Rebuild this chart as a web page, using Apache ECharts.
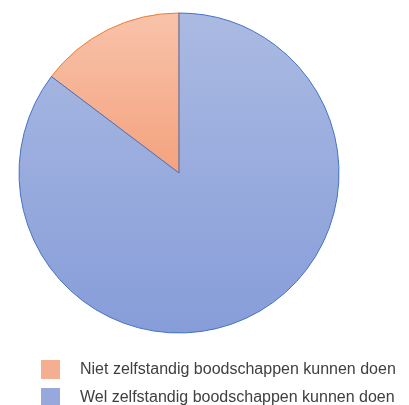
<!DOCTYPE html>
<html><head><meta charset="utf-8">
<script src="https://cdn.jsdelivr.net/npm/echarts@6/dist/echarts.min.js"></script>
<style>html,body{margin:0;padding:0;background:#fff}#c{width:409px;height:405px}</style>
</head><body><div id="c"></div>
<script>
var categories = ['Niet zelfstandig boodschappen kunnen doen', 'Wel zelfstandig boodschappen kunnen doen'];
var values = [14.7, 85.3];

var styles = [
  {fill: [{offset:0,color:'#F8C3AA'},{offset:1,color:'#F4A27E'}], border:'#ED7D31', legend:'#F5AF90'},
  {fill: [{offset:0,color:'#AABAE2'},{offset:1,color:'#879DD9'}], border:'#4472C4', legend:'#97A9DC'}
];

var data = categories.map(function(name, i){
  return {
    name: name, value: values[i],
    itemStyle: {
      color: new echarts.graphic.LinearGradient(0,0,0,1, styles[i].fill),
      borderColor: styles[i].border, borderWidth: 1
    }
  };
});

var chart = echarts.init(document.getElementById('c'));
chart.setOption({
  animation: false,
  legend: {
    orient: 'vertical', left: 41, top: 360, height: 80, width: 380, padding: 0,
    itemWidth: 19, itemHeight: 19, itemGap: 9,
    icon: 'rect',
    data: categories.map(function(n,i){ return {name:n, itemStyle:{color:styles[i].legend, borderWidth:0}}; }),
    textStyle: {fontFamily:'Liberation Sans, Arial, sans-serif', fontSize:16, color:'#404040', padding:[0,0,0,15]}
  },
  series: [{
    type: 'pie',
    center: [179, 173], radius: 160,
    startAngle: 90, clockwise: false,
    label: {show:false}, labelLine: {show:false},
    emphasis: {disabled: true},
    data: data
  }]
});
</script></body></html>
